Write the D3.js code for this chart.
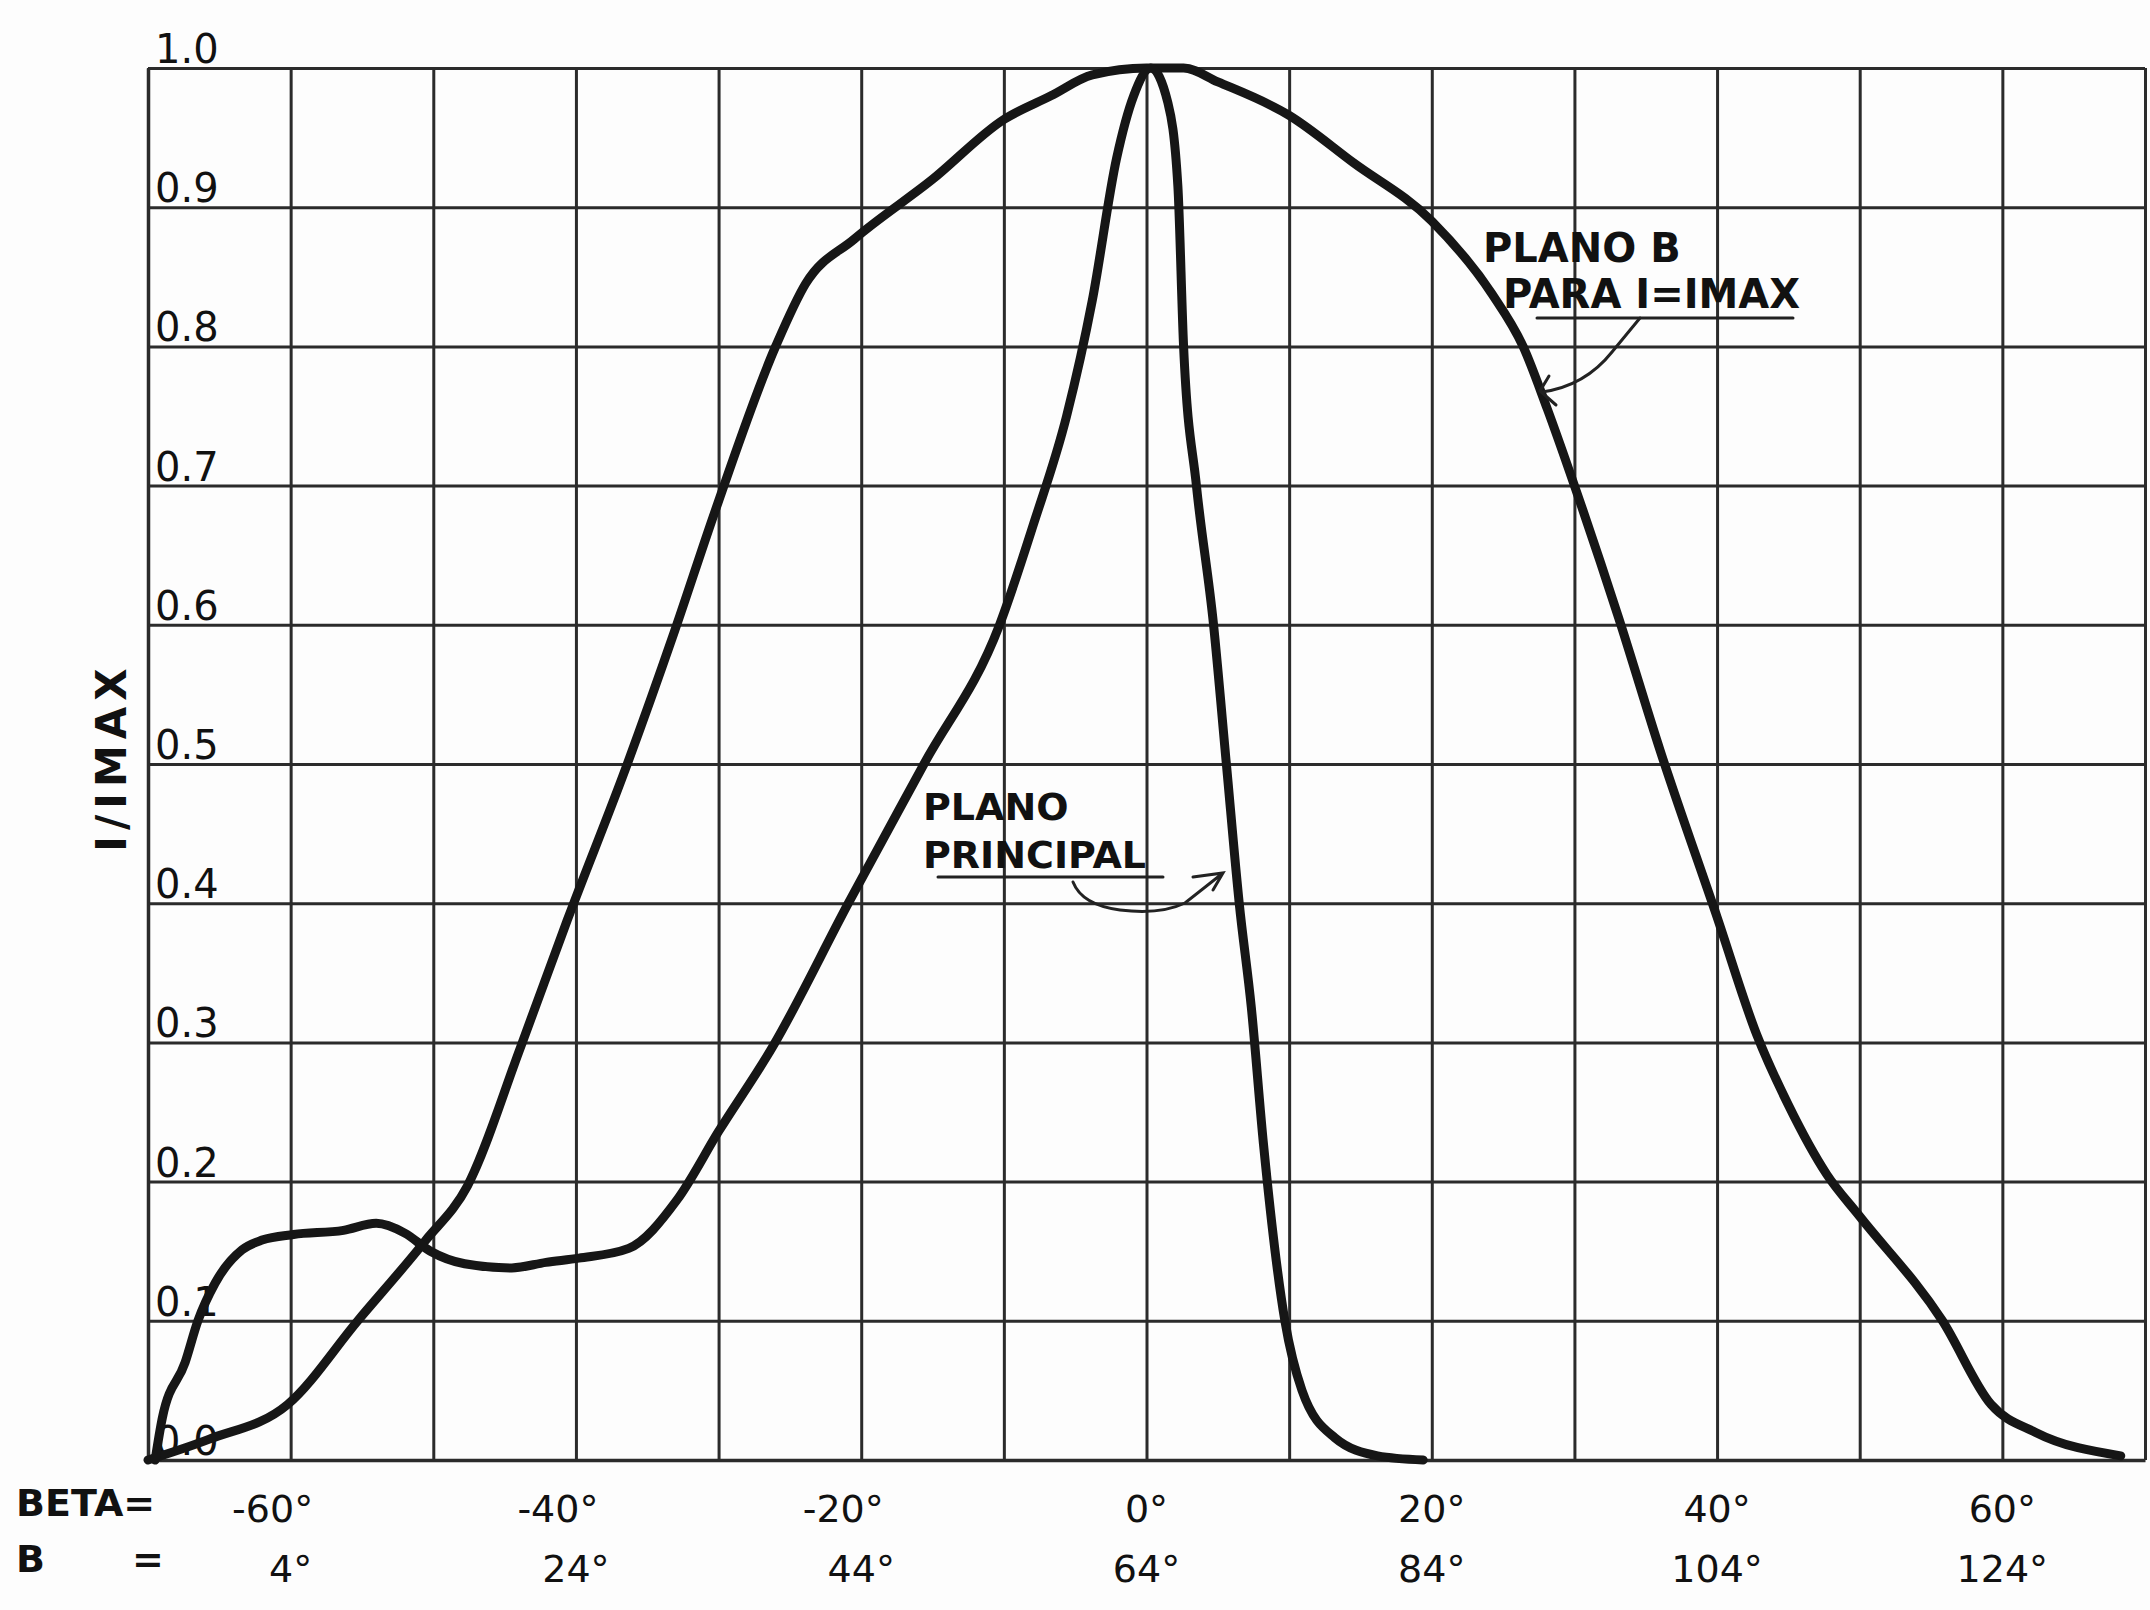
<!DOCTYPE html>
<html>
<head>
<meta charset="utf-8">
<script src="https://cdn.jsdelivr.net/npm/d3@7"></script>
<style>
  body { margin: 0; background: #fdfdfd; }
  svg { display: block; }
  .grid line { stroke: #2b2b2b; stroke-width: 3; }
  .grid path { stroke: #2b2b2b; stroke-width: 3.5; fill: none; }
  .lbl { font-family: "DejaVu Sans", sans-serif; fill: #111; }
  .curve { fill: none; stroke: #161616; stroke-width: 9; stroke-linecap: round; stroke-linejoin: round; }
  .note { fill: none; stroke: #222; stroke-width: 3; stroke-linecap: round; }
</style>
</head>
<body>
<svg id="chart" width="2150" height="1610"></svg>
<script>
// datos: [beta (grados), I/IMAX]
const planoB = [
  [-70, 0.0], [-65.7, 0.015], [-60.2, 0.04], [-55.3, 0.10], [-50.6, 0.157], [-47.6, 0.197],
  [-43.9, 0.296], [-40.6, 0.388], [-36.4, 0.50], [-33.1, 0.595], [-30.3, 0.68], [-26, 0.80],
  [-23.9, 0.845], [-20.5, 0.877], [-15, 0.92], [-10, 0.963], [-6.7, 0.98], [-3.8, 0.995],
  [0, 1.0], [2.6, 1.0], [5, 0.99], [10, 0.966], [14.5, 0.932], [20, 0.89], [24.2, 0.838],
  [26.4, 0.80], [28.1, 0.755], [30, 0.70], [33.1, 0.605], [36, 0.51],
  [40, 0.39], [42.8, 0.305], [45, 0.255], [47.7, 0.205], [50, 0.175], [55.8, 0.10],
  [59.2, 0.04], [62.3, 0.02], [68.3, 0.003]
];

const planoPrincipal = [
  [-69.5, 0.0], [-69, 0.03], [-67.4, 0.07], [-66.5, 0.10], [-65.3, 0.127], [-63.4, 0.151],
  [-62, 0.158], [-59.8, 0.162], [-56.3, 0.165], [-54, 0.17], [-52, 0.163], [-50.2, 0.15],
  [-47.8, 0.141], [-44.5, 0.138], [-42.1, 0.142], [-39.8, 0.145], [-36.3, 0.152], [-32.9, 0.187],
  [-30, 0.236], [-26.2, 0.297], [-20.9, 0.40], [-15.6, 0.50], [-10.3, 0.60], [-7.9, 0.673],
  [-5.6, 0.75], [-3.8, 0.833], [-2.1, 0.935], [-0.9, 0.98], [0.3, 1.0], [1.5, 0.975],
  [2.2, 0.915], [2.6, 0.80], [3.5, 0.70], [4.7, 0.60], [5.6, 0.50], [6.5, 0.40], [7.35, 0.325],
  [8.2, 0.227], [9.7, 0.10], [10.9, 0.05], [13.2, 0.016], [16.2, 0.003], [19.4, 0.0]
];

const betaTicks = [-60, -40, -20, 0, 20, 40, 60];
const betaLabels = ["-60°", "-40°", "-20°", "0°", "20°", "40°", "60°"];
const bLabels = ["4°", "24°", "44°", "64°", "84°", "104°", "124°"];
const yTicks = [0, 0.1, 0.2, 0.3, 0.4, 0.5, 0.6, 0.7, 0.8, 0.9, 1.0];
const yLabels = ["0.0", "0.1", "0.2", "0.3", "0.4", "0.5", "0.6", "0.7", "0.8", "0.9", "1.0"];
const gridX = [-70, -60, -50, -40, -30, -20, -10, 0, 10, 20, 30, 40, 50, 60, 70];

const svg = d3.select("#chart");
const plotLeft = 148, plotRight = 2145, plotTop = 68, plotBottom = 1460;

const x = d3.scaleLinear().domain([-70, 70]).range([plotLeft, plotRight]);
const y = d3.scaleLinear().domain([0, 1]).range([plotBottom, plotTop]);

// cuadrícula con los ejes de d3
svg.append("g")
  .attr("class", "grid")
  .attr("transform", `translate(0,${plotBottom})`)
  .call(d3.axisBottom(x).tickValues(gridX).tickSize(-(plotBottom - plotTop)).tickSizeOuter(0).tickFormat(""));

svg.append("g")
  .attr("class", "grid")
  .attr("transform", `translate(${plotLeft},0)`)
  .call(d3.axisLeft(y).tickValues(yTicks).tickSize(-(plotRight - plotLeft)).tickSizeOuter(0).tickFormat(""));

svg.selectAll(".grid text").remove();

// etiquetas del eje Y
svg.append("g").selectAll("text")
  .data(yTicks)
  .join("text")
  .attr("class", "lbl")
  .attr("x", plotLeft + 7)
  .attr("y", d => y(d) - 5)
  .attr("font-size", 40)
  .text((d, i) => yLabels[i]);

svg.append("text")
  .attr("class", "lbl")
  .attr("transform", "translate(126,757) rotate(-90)")
  .attr("text-anchor", "middle")
  .attr("font-size", 42)
  .attr("font-weight", "bold")
  .attr("letter-spacing", 6)
  .text("I/IMAX");

// etiquetas del eje X (dos filas)
svg.append("text").attr("class", "lbl").attr("x", 16).attr("y", 1516)
  .attr("font-size", 38).attr("font-weight", "bold").text("BETA=");
svg.append("text").attr("class", "lbl").attr("x", 16).attr("y", 1572)
  .attr("font-size", 38).attr("font-weight", "bold").text("B");
svg.append("text").attr("class", "lbl").attr("x", 132).attr("y", 1572)
  .attr("font-size", 38).attr("font-weight", "bold").text("=");

svg.append("g").selectAll("text")
  .data(betaTicks)
  .join("text")
  .attr("class", "lbl")
  .attr("x", d => x(d) - (d < 0 ? 18 : 0))
  .attr("y", 1522)
  .attr("text-anchor", "middle")
  .attr("font-size", 38)
  .text((d, i) => betaLabels[i]);

svg.append("g").selectAll("text")
  .data(betaTicks)
  .join("text")
  .attr("class", "lbl")
  .attr("x", d => x(d))
  .attr("y", 1582)
  .attr("text-anchor", "middle")
  .attr("font-size", 38)
  .text((d, i) => bLabels[i]);

// curvas
const line = d3.line()
  .x(d => x(d[0]))
  .y(d => y(d[1]))
  .curve(d3.curveMonotoneX);

svg.append("path").attr("class", "curve").attr("d", line(planoB));
svg.append("path").attr("class", "curve").attr("d", line(planoPrincipal));

// anotaciones
const notes = svg.append("g");
notes.append("text").attr("class", "lbl").attr("x", 1483).attr("y", 262)
  .attr("font-size", 40).attr("font-weight", "bold").text("PLANO B");
notes.append("text").attr("class", "lbl").attr("x", 1503).attr("y", 308)
  .attr("font-size", 40).attr("font-weight", "bold").text("PARA I=IMAX");
notes.append("line").attr("class", "note").attr("x1", 1537).attr("y1", 318).attr("x2", 1793).attr("y2", 318);
notes.append("path").attr("class", "note")
  .attr("d", "M1640,318 L1612,352 Q1585,386 1542,392 M1549,376 L1540,391 L1556,405");

notes.append("text").attr("class", "lbl").attr("x", 923).attr("y", 820)
  .attr("font-size", 38).attr("font-weight", "bold").text("PLANO");
notes.append("text").attr("class", "lbl").attr("x", 923).attr("y", 868)
  .attr("font-size", 38).attr("font-weight", "bold").text("PRINCIPAL");
notes.append("line").attr("class", "note").attr("x1", 938).attr("y1", 877).attr("x2", 1163).attr("y2", 877);
notes.append("path").attr("class", "note")
  .attr("d", "M1073,882 Q1082,905 1120,910 Q1160,915 1185,903 L1223,873 M1193,877 L1223,873 L1213,890");
</script>
</body>
</html>
